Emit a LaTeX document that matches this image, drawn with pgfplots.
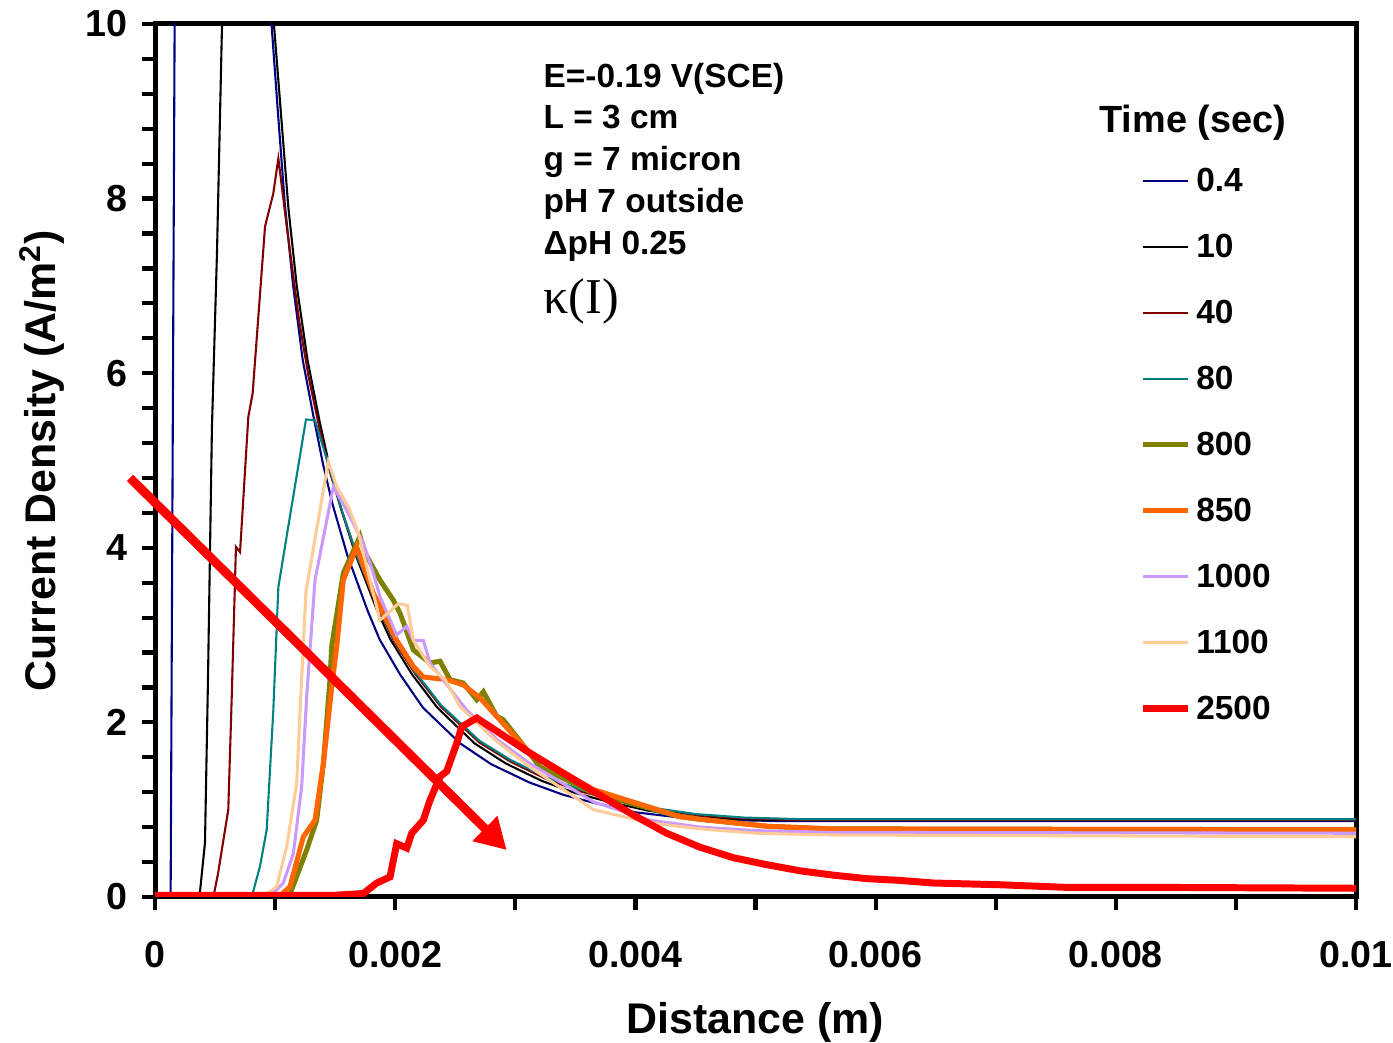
\documentclass[border=0pt]{standalone}
\usepackage{fontspec}
\setmainfont{Liberation Sans}
\newfontfamily\seriffont{Liberation Serif}
\usepackage{pgfplots}
\pgfplotsset{compat=1.18}
\usetikzlibrary{arrows.meta}
\definecolor{cnavy}{RGB}{0,0,128}
\definecolor{cdred}{RGB}{128,0,0}
\definecolor{cteal}{RGB}{0,128,128}
\definecolor{colive}{RGB}{128,128,0}
\definecolor{corange}{RGB}{255,102,0}
\definecolor{cpurple}{RGB}{204,153,255}
\definecolor{cpeach}{RGB}{255,204,153}
\definecolor{cred}{RGB}{255,0,0}
\begin{document}
\begin{tikzpicture}
\useasboundingbox (-55.64pt,-52.4pt) rectangle (444.36pt,321.96pt);
\begin{axis}[
  scale only axis, width=431.1pt, height=313.35pt,
  xmin=0, xmax=0.01, ymin=0, ymax=10,
  xtick={0,0.002,0.004,0.006,0.008,0.01},
  xticklabels={0,0.002,0.004,0.006,0.008,0.01},
  minor xtick={0.001,0.003,0.005,0.007,0.009},
  ytick={0,2,4,6,8,10}, yticklabels={0,2,4,6,8,10},
  minor y tick num=4,
  scaled x ticks=false,
  tick align=outside, xtick pos=lower, ytick pos=left,
  major tick length=4.5pt, minor tick length=4.5pt,
  every tick/.style={black, line width=1.5pt},
  every minor tick/.style={black, line width=1.5pt},
  axis line style={line width=1.8pt},
  tick label style={font=\bfseries\fontsize{13.5}{15}\selectfont},
  yticklabel style={xshift=-2pt},
  xticklabel style={yshift=-7.7pt},
  xlabel={Distance (m)}, ylabel={Current Density (A/m\textsuperscript{2})},
  label style={font=\bfseries\fontsize{15.4}{18}\selectfont},
  xlabel style={at={(axis description cs:0.5,-0.1435)}, anchor=center},
  ylabel style={at={(axis description cs:-0.0942,0.5)}, anchor=center},
  legend style={at={(rel axis cs:0.8194,0.8407)}, anchor=north west, draw=none, fill=none,
    font=\bfseries\fontsize{12}{14}\selectfont, inner sep=0pt, row sep=13.7pt,
    nodes={inner sep=0pt, text height=10pt, text depth=0pt},
    /tikz/every odd column/.style={column sep=1.8pt}},
  legend cell align=left,
  legend image code/.code={\draw[#1] (0pt,-1.1pt) -- (16pt,-1.1pt);},
]
\addplot[cnavy, line width=0.75pt] coordinates {(0,0) (0.00013,0) (0.00017,12) (0.0009,11) (0.00097,10.0) (0.00102,9.05) (0.00108,7.95) (0.00115,7.0) (0.00123,6.15) (0.00132,5.5) (0.0014,4.95) (0.00148,4.49) (0.0016,3.92) (0.00177,3.28) (0.00187,2.95) (0.00204,2.55) (0.00223,2.17) (0.00254,1.76) (0.0028,1.52) (0.00312,1.31) (0.0034,1.17) (0.00365,1.08) (0.004,0.97) (0.00437,0.91) (0.0048,0.88) (0.0052,0.87) (0.01,0.87)};
\addlegendentry{0.4}
\addplot[black, line width=0.75pt] coordinates {(0,0) (0.00037,0) (0.000416,0.62) (0.000441,2.49) (0.000474,5.38) (0.000516,7.38) (0.000558,10) (0.0006,13) (0.0009,12) (0.00099,10) (0.00105,8.95) (0.00111,7.9) (0.00118,7.0) (0.00127,6.15) (0.00137,5.45) (0.00145,4.95) (0.00154,4.49) (0.00167,3.92) (0.00185,3.28) (0.00196,2.95) (0.00214,2.55) (0.00235,2.17) (0.00266,1.76) (0.00292,1.53) (0.00322,1.33) (0.0035,1.19) (0.00375,1.1) (0.0041,0.99) (0.00447,0.92) (0.0049,0.89) (0.0053,0.88) (0.01,0.88)};
\addlegendentry{10}
\addplot[cdred, line width=0.75pt] coordinates {(0,0) (0.000486,0) (0.000525,0.27) (0.00061,1.0) (0.000639,2.3) (0.000674,4.01) (0.000708,3.95) (0.000777,5.5) (0.000813,5.77) (0.000916,7.68) (0.000985,8.06) (0.001027,8.46) (0.001097,7.68) (0.0012,6.6) (0.00128,5.95) (0.00138,5.3) (0.00146,4.85) (0.00156,4.4) (0.00169,3.87) (0.00188,3.25) (0.00199,2.93) (0.00217,2.55) (0.00238,2.18) (0.0027,1.77) (0.00296,1.55) (0.00326,1.35) (0.00354,1.21) (0.0038,1.12) (0.00415,1.01) (0.0045,0.94) (0.0049,0.9) (0.0054,0.88) (0.01,0.88)};
\addlegendentry{40}
\addplot[cteal, line width=0.75pt] coordinates {(0,0) (0.000805,0) (0.000874,0.35) (0.00093,0.77) (0.000985,2.14) (0.001027,3.55) (0.001102,4.18) (0.001257,5.47) (0.001332,5.46) (0.00144,4.97) (0.00156,4.41) (0.00169,3.88) (0.00188,3.26) (0.00199,2.95) (0.00217,2.57) (0.00238,2.2) (0.0027,1.79) (0.00296,1.57) (0.00326,1.37) (0.00354,1.23) (0.0038,1.13) (0.00415,1.02) (0.0045,0.95) (0.0049,0.91) (0.0054,0.89) (0.01,0.89)};
\addlegendentry{80}
\addplot[colive, line width=1.8pt] coordinates {(0,0) (0.00112,0.02) (0.001263,0.54) (0.001346,0.88) (0.001402,1.53) (0.001457,2.49) (0.001471,2.87) (0.001568,3.71) (0.001707,4.13) (0.001749,3.94) (0.001873,3.63) (0.001984,3.40) (0.00204,3.25) (0.002151,2.83) (0.00229,2.68) (0.002373,2.70) (0.002456,2.49) (0.002567,2.45) (0.002679,2.26) (0.002734,2.35) (0.002817,2.14) (0.002845,2.07) (0.0029,2.03) (0.003206,1.49) (0.003428,1.34) (0.00365,1.19) (0.00437,0.92) (0.00454,0.89) (0.0051,0.81) (0.00562,0.78) (0.01,0.77)};
\addlegendentry{800}
\addplot[corange, line width=1.8pt] coordinates {(0,0) (0.00104,0.01) (0.001124,0.12) (0.001235,0.69) (0.001332,0.88) (0.001402,1.53) (0.001471,2.4) (0.001513,2.87) (0.001568,3.63) (0.001679,4.01) (0.001818,3.48) (0.002012,2.94) (0.002151,2.64) (0.002234,2.52) (0.002429,2.49) (0.002567,2.43) (0.002706,2.28) (0.00312,1.65) (0.00365,1.23) (0.00437,0.92) (0.00454,0.89) (0.0051,0.81) (0.00562,0.78) (0.01,0.77)};
\addlegendentry{850}
\addplot[cpurple, line width=1.1pt] coordinates {(0,0) (0.00097,0.02) (0.001068,0.16) (0.001152,0.5) (0.001221,1.26) (0.001263,2.3) (0.001332,3.63) (0.001485,4.70) (0.001596,4.43) (0.001735,4.05) (0.001818,3.71) (0.001873,3.44) (0.002012,3.0) (0.002096,3.10) (0.002151,2.94) (0.002234,2.94) (0.00229,2.68) (0.002595,2.14) (0.00285,1.8) (0.00312,1.53) (0.00365,1.09) (0.00412,0.88) (0.00454,0.8) (0.005,0.76) (0.00562,0.74) (0.01,0.73)};
\addlegendentry{1000}
\addplot[cpeach, line width=1.1pt] coordinates {(0,0) (0.00092,0.02) (0.001013,0.12) (0.001097,0.58) (0.00118,1.31) (0.00121,2.2) (0.001257,3.5) (0.001443,4.99) (0.001513,4.70) (0.00161,4.47) (0.001693,4.17) (0.001873,3.17) (0.002026,3.36) (0.002101,3.34) (0.002151,2.94) (0.00229,2.64) (0.002415,2.49) (0.00254,2.18) (0.00283,1.8) (0.00312,1.49) (0.00365,1.0) (0.00412,0.85) (0.00454,0.78) (0.005,0.73) (0.00562,0.71) (0.01,0.69)};
\addlegendentry{1100}
\addplot[cred, line width=2.5pt] coordinates {(0,0.02) (0.0015,0.02) (0.001735,0.04) (0.001846,0.16) (0.001957,0.23) (0.002012,0.61) (0.002096,0.56) (0.002137,0.73) (0.002234,0.88) (0.00229,1.11) (0.002373,1.38) (0.002429,1.44) (0.002512,1.76) (0.002554,1.95) (0.002679,2.05) (0.00312,1.65) (0.00365,1.21) (0.003982,0.94) (0.00426,0.73) (0.004538,0.57) (0.004815,0.45) (0.005093,0.37) (0.00537,0.30) (0.005648,0.25) (0.005926,0.21) (0.006203,0.19) (0.00648,0.16) (0.006759,0.15) (0.007036,0.14) (0.00759,0.11) (0.00834,0.11) (0.01,0.1)};
\addlegendentry{2500}
\coordinate (A1) at (axis cs:-0.000208,4.80);
\coordinate (A2) at (axis cs:0.002928,0.538);
\coordinate (T) at (rel axis cs:0.864,0.8866);
\coordinate (L1) at (rel axis cs:0.3231,0.9278);
\coordinate (L2) at (rel axis cs:0.3231,0.8797);
\coordinate (L3) at (rel axis cs:0.3231,0.8316);
\coordinate (L4) at (rel axis cs:0.3231,0.7835);
\coordinate (L5) at (rel axis cs:0.3231,0.7354);
\coordinate (L6) at (rel axis cs:0.3231,0.6678);
\end{axis}
\draw[cred, line width=3.2pt, -{Triangle[length=11pt,width=12pt]}] (A1) -- (A2);
\node[font=\bfseries\fontsize{13.6}{16}\selectfont] at (T) {Time (sec)};
\begin{scope}[every node/.style={anchor=base west, inner sep=0pt, font=\bfseries\fontsize{12}{14}\selectfont}]
\node at (L1) {E=-0.19 V(SCE)};
\node at (L2) {L = 3 cm};
\node at (L3) {g = 7 micron};
\node at (L4) {pH 7 outside};
\node at (L5) {ΔpH 0.25};
\node[font=\seriffont\fontsize{18}{20}\selectfont] at (L6) {κ(I)};
\end{scope}
\end{tikzpicture}
\end{document}
